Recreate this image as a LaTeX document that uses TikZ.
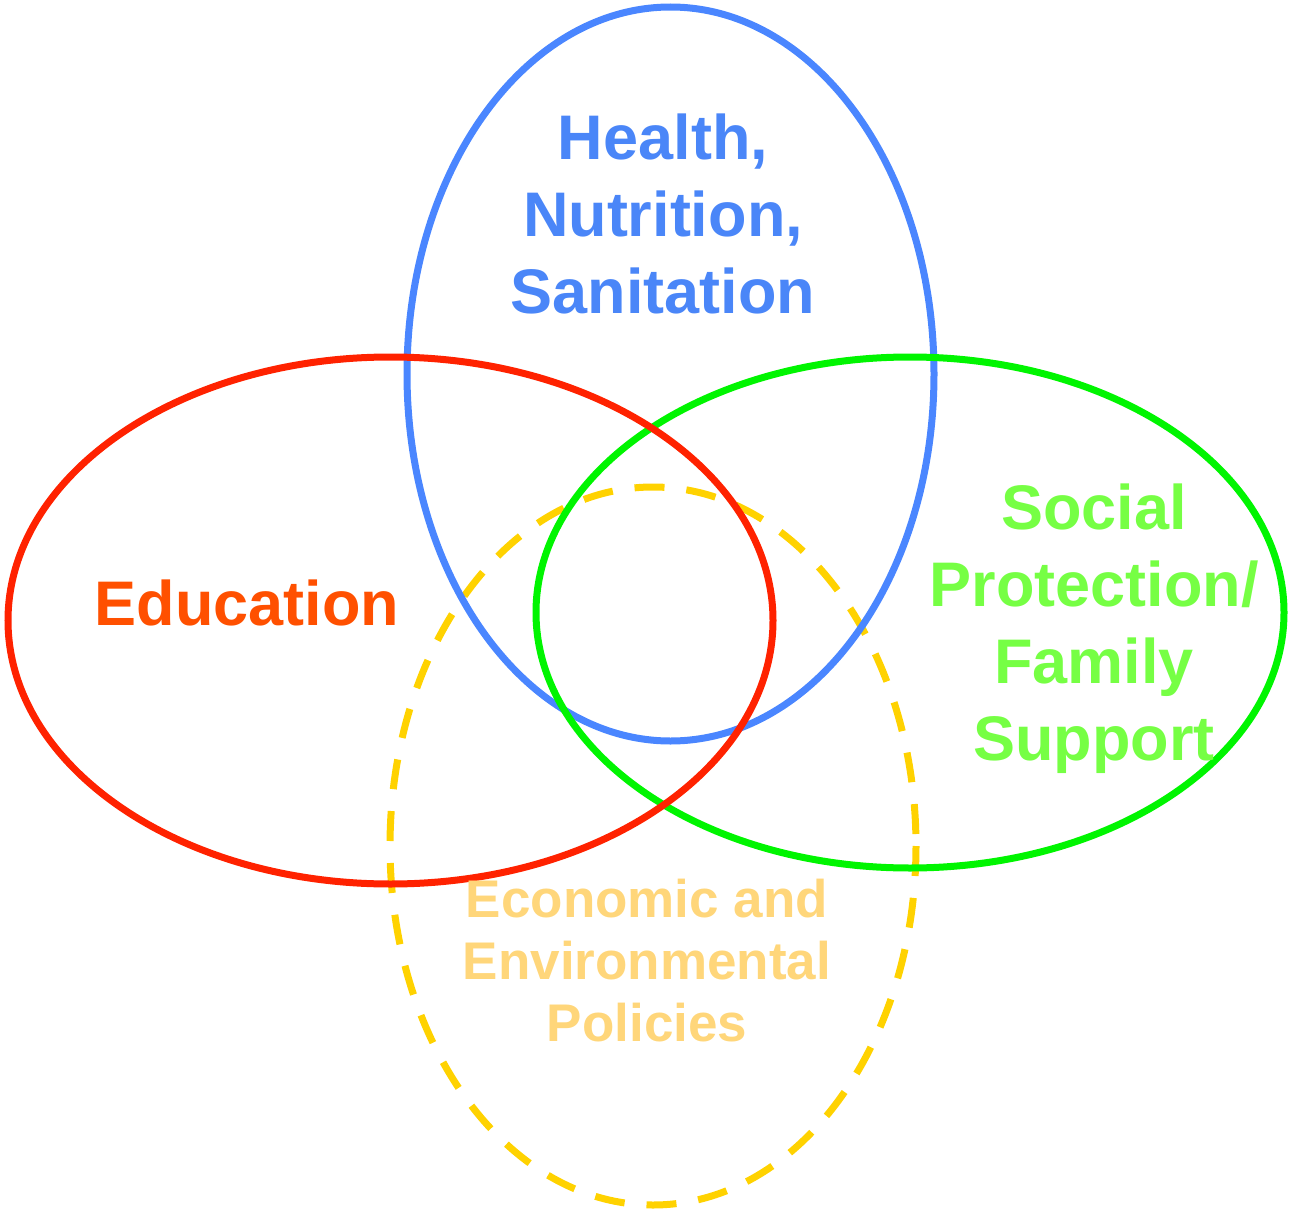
\documentclass[tikz,border=0pt]{standalone}
\usepackage{fontspec}
\setmainfont{Liberation Sans}
\definecolor{cblue}{RGB}{74,134,255}
\definecolor{cbluetext}{RGB}{74,134,248}
\definecolor{cred}{RGB}{255,34,0}
\definecolor{credtext}{RGB}{255,80,0}
\definecolor{cgreen}{RGB}{0,245,0}
\definecolor{cgreentext}{RGB}{118,255,68}
\definecolor{cyellow}{RGB}{255,210,0}
\definecolor{cyellowtext}{RGB}{255,214,122}
\tikzset{
  ring/.style={line width=7pt},
  biglabel/.style={inner sep=0pt, align=center, font=\bfseries\fontsize{63}{77}\selectfont},
  smalllabel/.style={inner sep=0pt, align=center, font=\bfseries\fontsize{53}{62}\selectfont}
}
\begin{document}
\begin{tikzpicture}[x=1pt,y=-1pt]
\useasboundingbox (0,0) rectangle (1291,1212);
% yellow dashed (bottom)
\draw[ring, cyellow, dash pattern=on 30pt off 22pt] (653,846) ellipse [x radius=263, y radius=359];
% blue
\draw[ring, cblue] (670.5,374) ellipse [x radius=263.5, y radius=367];
% green
\draw[ring, cgreen] (910,612.5) ellipse [x radius=374, y radius=255.5];
% red
\draw[ring, cred] (390.5,620.5) ellipse [x radius=382.5, y radius=263.5];
% labels
\node[biglabel, text=cbluetext] (health) at (663,214) {Health,\\Nutrition,\\Sanitation};
\node[biglabel, text=credtext] (education) at (247,603) {Education};
\node[biglabel, text=cgreentext] (social) at (1094,629) {Social\\Protection/\\Family\\Support};
\node[smalllabel, text=cyellowtext] (economic) at (647,961) {Economic and\\Environmental\\Policies};
\end{tikzpicture}
\end{document}
